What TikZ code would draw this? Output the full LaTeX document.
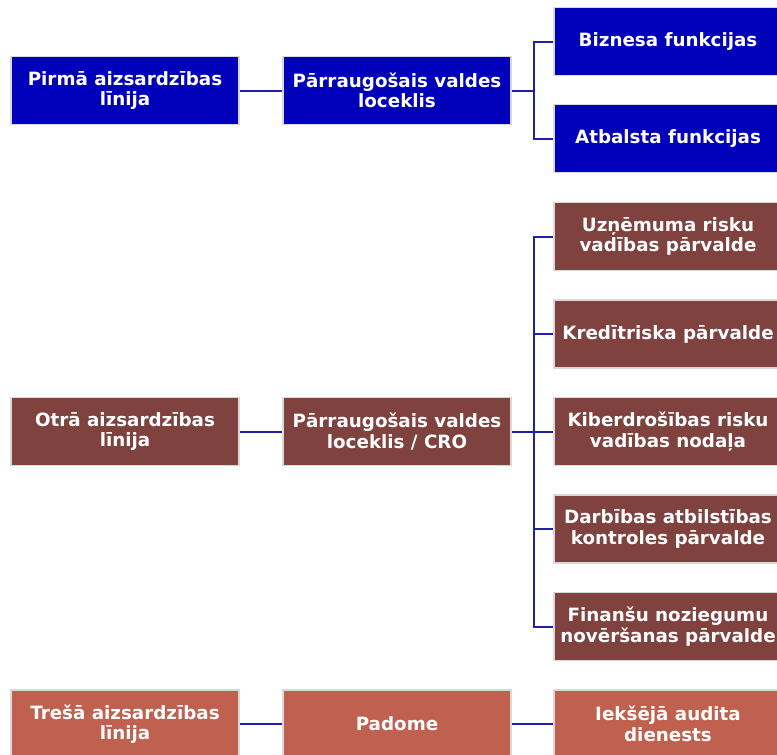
\documentclass[tikz,border=0pt]{standalone}
\usepackage{fontspec}
\setmainfont{DejaVu Sans}
\definecolor{lineone}{RGB}{0,0,187}
\definecolor{linetwo}{RGB}{128,66,63}
\definecolor{linethree}{RGB}{192,96,78}
\definecolor{linkblue}{RGB}{32,32,160}
\tikzset{
  box/.style={draw=gray!30, line width=1.2pt, minimum width=228pt, minimum height=68pt,
    align=center, text=white, inner sep=0pt,
    font=\bfseries\fontsize{18.3}{20.5}\selectfont},
  link/.style={draw=linkblue, line width=2pt}
}
\begin{document}
\begin{tikzpicture}[x=1pt,y=-1pt]
\useasboundingbox (0,0) rectangle (777,755);
% first line
\node[box, fill=lineone] (L1) at (125,90.5) {Pirmā aizsardzības\\līnija};
\node[box, fill=lineone] (M1) at (397,90.5) {Pārraugošais valdes\\loceklis};
\node[box, fill=lineone] (R1a) at (668,41.5) {Biznesa funkcijas};
\node[box, fill=lineone] (R1b) at (668,138.5) {Atbalsta funkcijas};
% second line
\node[box, fill=linetwo] (L2) at (125,431.5) {Otrā aizsardzības\\līnija};
\node[box, fill=linetwo] (M2) at (397,431.5) {Pārraugošais valdes\\loceklis / CRO};
\node[box, fill=linetwo] (R2a) at (668,236.5) {Uzņēmuma risku\\vadības pārvalde};
\node[box, fill=linetwo] (R2b) at (668,334) {Kredītriska pārvalde};
\node[box, fill=linetwo] (R2c) at (668,431.5) {Kiberdrošības risku\\vadības nodaļa};
\node[box, fill=linetwo] (R2d) at (668,529) {Darbības atbilstības\\kontroles pārvalde};
\node[box, fill=linetwo] (R2e) at (668,626.5) {Finanšu noziegumu\\novēršanas pārvalde};
% third line
\node[box, fill=linethree] (L3) at (125,724) {Trešā aizsardzības\\līnija};
\node[box, fill=linethree] (M3) at (397,724) {Padome};
\node[box, fill=linethree] (R3) at (668,724) {Iekšējā audita\\dienests};
% connectors
\draw[link] (L1.east) -- (M1.west);
\draw[link] (M1.east) -- ++(22,0) coordinate (j1);
\draw[link] (j1) |- (R1a.west);
\draw[link] (j1) |- (R1b.west);
\draw[link] (L2.east) -- (M2.west);
\draw[link] (M2.east) -- ++(22,0) coordinate (j2);
\foreach \n in {R2a,R2b,R2c,R2d,R2e} \draw[link] (j2) |- (\n.west);
\draw[link] (L3.east) -- (M3.west);
\draw[link] (M3.east) -- (R3.west);
\end{tikzpicture}
\end{document}
